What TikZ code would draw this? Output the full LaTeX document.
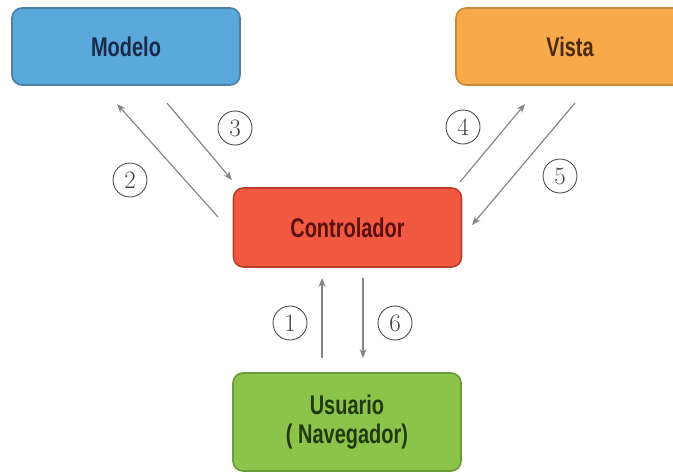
\documentclass[tikz,border=0pt]{standalone}
\usepackage{fontspec}
\newfontfamily\boxfont[FakeStretch=0.74]{Liberation Sans}
\usetikzlibrary{arrows.meta}
\definecolor{modelofill}{HTML}{5AA8DC}
\definecolor{modeloline}{HTML}{4A7FA8}
\definecolor{modelotext}{HTML}{1A2A48}
\definecolor{vistafill}{HTML}{F8A94A}
\definecolor{vistaline}{HTML}{C8893E}
\definecolor{vistatext}{HTML}{4A2A10}
\definecolor{ctrlfill}{HTML}{F15A40}
\definecolor{ctrlline}{HTML}{B8402D}
\definecolor{ctrltext}{HTML}{5A1010}
\definecolor{userfill}{HTML}{8CC34A}
\definecolor{userline}{HTML}{6A9A3A}
\definecolor{usertext}{HTML}{1F3A10}
\definecolor{flowgray}{HTML}{858585}

\begin{document}
\begin{tikzpicture}[x=1pt, y=-1pt,
	mvcbox/.style={rectangle, rounded corners=10pt, line width=1.6pt, minimum width=228pt, minimum height=77pt, align=center, font=\boxfont\bfseries\fontsize{27}{29}\selectfont},
	stepnum/.style={circle, draw=black!70, line width=0.9pt, minimum size=34pt, inner sep=0pt, font=\fontsize{25}{25}\selectfont, text=black!75},
	flow/.style={draw=flowgray, line width=1.2pt, -{Stealth[length=9pt, width=7pt]}}]
	\useasboundingbox (0,0) rectangle (673,472);
	\node[mvcbox, draw=modeloline, fill=modelofill, text=modelotext] (modelo) at (126,46.5) {Modelo};
	\node[mvcbox, draw=vistaline, fill=vistafill, text=vistatext] (vista) at (570,46.5) {Vista};
	\node[mvcbox, draw=ctrlline, fill=ctrlfill, text=ctrltext, minimum height=79pt] (ctrl) at (347.5,227.5) {Controlador};
	\node[mvcbox, draw=userline, fill=userfill, text=usertext, minimum height=98pt] (usuario) at (347,422) {Usuario\\( Navegador)};
	% free ends of the arrows
	\coordinate (p1a) at (322,358);
	\coordinate (p1b) at (322,278);
	\coordinate (p2a) at (218,217);
	\coordinate (p2b) at (117,104);
	\coordinate (p3a) at (167,103);
	\coordinate (p3b) at (232,180);
	\coordinate (p4a) at (460,182);
	\coordinate (p4b) at (525,104);
	\coordinate (p5a) at (575,103);
	\coordinate (p5b) at (472,225);
	\coordinate (p6a) at (363,278);
	\coordinate (p6b) at (363,358);
	\draw[flow] (p1a) -- (p1b);
	\draw[flow] (p2a) -- (p2b);
	\draw[flow] (p3a) -- (p3b);
	\draw[flow] (p4a) -- (p4b);
	\draw[flow] (p5a) -- (p5b);
	\draw[flow] (p6a) -- (p6b);
	\node[stepnum] (n1) at (290,323) {1};
	\node[stepnum] (n2) at (130,180) {2};
	\node[stepnum] (n3) at (235,128) {3};
	\node[stepnum] (n4) at (463,127) {4};
	\node[stepnum] (n5) at (560,176) {5};
	\node[stepnum] (n6) at (395,323) {6};
\end{tikzpicture}
\end{document}
